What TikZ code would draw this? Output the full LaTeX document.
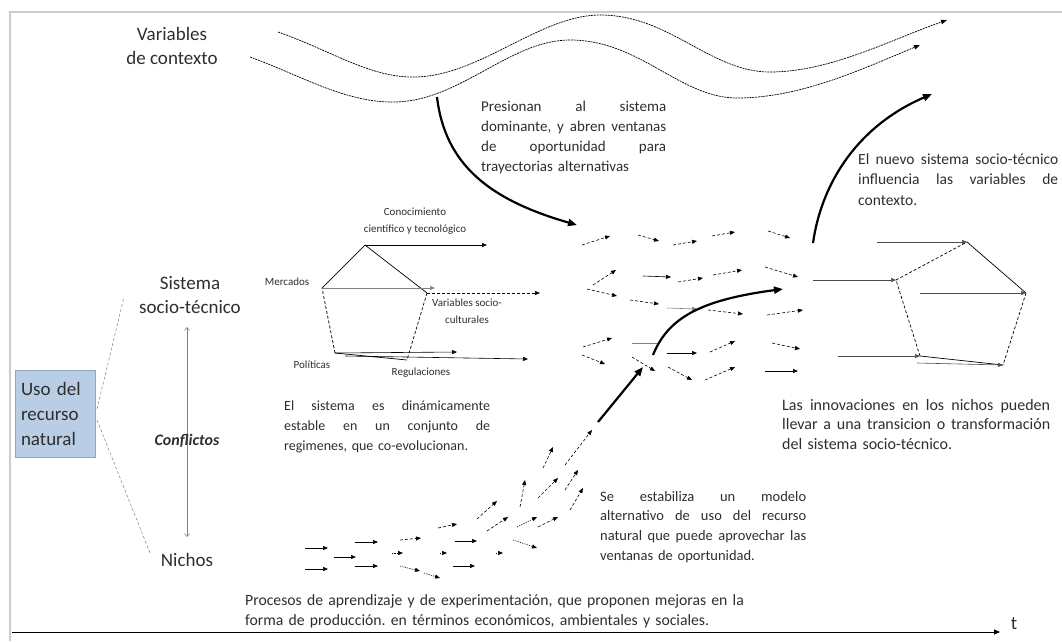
\documentclass[tikz,border=0pt]{standalone}
\usepackage{fontspec}
\setmainfont{Carlito}
\usetikzlibrary{arrows.meta}
\definecolor{boxfill}{HTML}{B9CDE5}
\definecolor{boxline}{HTML}{8EA9C8}
\frenchspacing
\newcommand{\jlin}[2]{\makebox[#1][s]{\spaceskip=0pt\xspaceskip=0pt\relax #2}}
\begin{document}
\begin{tikzpicture}[x=1pt,y=-1pt,
  txt/.style={inner sep=0pt,text=black!82},
  para/.style={txt,anchor=base west,align=left,text width=300pt},
  big/.style={txt,align=center,font=\fontsize{19}{23.5}\selectfont},
  small/.style={txt,align=center,font=\fontsize{11}{17}\selectfont},
  fa/.style={line width=0.6pt,-{Triangle[length=5pt,width=4pt]}},
  fd/.style={fa,densely dashed},
  fdot/.style={fa,dash pattern=on 1.2pt off 1.2pt},
  thickarr/.style={line width=2.2pt,-{Triangle[length=9pt,width=7pt]}},
  wave/.style={line width=0.7pt,dash pattern=on 2pt off 0.8pt,-{Triangle[length=6pt,width=4.5pt]}},
  pent/.style={line width=0.7pt},
  pentd/.style={line width=0.7pt,densely dashed}]
\useasboundingbox (0,0) rectangle (1062,641);
% frame
\draw[gray!40,line width=1.2pt] (10,641) -- (10,12) -- (1062,12);

% context waves
\draw[wave] (278,32) .. controls (330,50) and (370,78) .. (415,77)
  .. controls (480,76) and (540,15) .. (600,15)
  .. controls (670,15) and (710,72) .. (770,72)
  .. controls (830,72) and (890,40) .. (947,20);
\draw[wave] (250,57) .. controls (300,75) and (345,103) .. (395,102)
  .. controls (460,101) and (510,40) .. (570,40)
  .. controls (640,40) and (680,98) .. (737,98)
  .. controls (800,98) and (860,70) .. (920,45);

% labels left
\node[big] (ctx) at (172,46) {Variables\\de contexto};
\node[big] (sis) at (190,295) {Sistema\\socio-técnico};
\node[draw=boxline,fill=boxfill,line width=0.8pt,minimum width=80pt,minimum height=87pt,
      inner xsep=6pt,inner ysep=0pt,text width=68pt,align=left,
      font=\fontsize{19}{25}\selectfont,text=black!82] (uso) at (55,413.5) {Uso del\\recurso\\natural};
\node[big] (nic) at (187,560) {Nichos};
\coordinate (up) at (187,327);
\coordinate (dn) at (187,537);
\draw[gray,line width=0.6pt,{Straight Barb[length=3pt,width=5pt]}-{Straight Barb[length=3pt,width=5pt]}] (up) -- (dn);
\node[txt,font=\fontsize{16}{19}\selectfont\bfseries\itshape] (con) at (187,441) {Conflictos};
\coordinate (u1) at (97,409);
\coordinate (u2) at (97,420);
\coordinate (s1) at (124,297);
\coordinate (n1) at (150,553);
\draw[gray,densely dashed,line width=0.5pt] (u1) -- (s1);
\draw[gray,densely dashed,line width=0.5pt] (u2) -- (n1);

% left pentagon
\coordinate (PT) at (365,245);
\coordinate (PR) at (427,293);
\coordinate (PBR) at (407,360);
\coordinate (PBL) at (335,353);
\coordinate (PL) at (322,288);
\draw[pent] (PL) -- (PT) -- (PR);
\draw[pentd] (PR) -- (PBR);
\draw[pent] (PBR) -- (PBL);
\draw[pentd] (PBL) -- (PL);
\draw[fa] (PT) -- (487,245);
\draw[fa,gray] (PL) -- (435,288);
\draw[fd] (PR) -- (540,293);
\draw[fa] (PBL) -- (457,352);
\draw[fa] (345,356) -- (528,359);
\node[small] (lcon) at (415,221) {Conocimiento\\científico y tecnológico};
\node[small] (lmer) at (287,282) {Mercados};
\node[small] (lvar) at (467,311) {Variables socio-\\culturales};
\node[small] (lpol) at (312,365) {Políticas};
\node[small] (lreg) at (421,373) {Regulaciones};

% right pentagon
\coordinate (QT) at (967,242);
\coordinate (QR) at (1026,293);
\coordinate (QBR) at (1003,365);
\coordinate (QBL) at (920,356);
\coordinate (QL) at (896,280);
\draw[pentd] (QL) -- (QT);
\draw[pent] (QT) -- (QR);
\draw[pentd] (QR) -- (QBR);
\draw[pent] (QBR) -- (QBL);
\draw[pentd] (QBL) -- (QL);
\draw[fa,black!70] (877,242) -- (QT);
\draw[fa,black!70] (813,280) -- (QL);
\draw[fa,black!70] (920,293) -- (QR);
\draw[fa,black!70] (838,356) -- (QBL);
\draw[fa,black!70] (917,363) -- (QBR);

% field of arrows (regime)
\draw[fd] (582,245) -- (610,236);
\draw[fd] (638,235) -- (659,241);
\draw[fd] (673,245) -- (697,241);
\draw[fd] (712,236) -- (735,232);
\draw[fd] (768,231) -- (790,238);
\draw[fd] (593,285) -- (616,270);
\draw[fa] (643,276) -- (671,277);
\draw[fd] (678,282) -- (703,278);
\draw[fd] (713,275) -- (742,270);
\draw[fd] (765,267) -- (798,277);
\draw[fd] (587,289) -- (617,296);
\draw[fd] (630,300) -- (659,304);
\draw[fa,gray] (667,308) -- (697,309);
\draw[fd] (708,310) -- (743,314);
\draw[fd] (767,315) -- (803,310);
\draw[fd] (583,347) -- (612,338);
\draw[line width=0.6pt,gray] (632,343) -- (657,343);
\draw[fa] (667,353) -- (697,353);
\draw[fd] (710,352) -- (735,341);
\draw[fd] (772,343) -- (800,349);
\draw[fd] (582,355) -- (605,364);
\draw[fd] (632,357) -- (655,371);
\draw[fd] (668,367) -- (692,380);
\draw[fd] (705,380) -- (735,367);
\draw[fa] (765,371) -- (798,371);

% field of arrows (niches)
\draw[fa] (305,548) -- (328,548);
\draw[fa] (334,557) -- (356,557);
\draw[fa] (305,569) -- (328,569);
\draw[fa] (355,542) -- (378,542);
\draw[fa] (355,566) -- (378,566);
\draw[fd] (400,540) -- (421,538);
\draw[fdot] (392,553) -- (403,553);
\draw[fdot] (400,566) -- (420,571);
\draw[fdot] (424,573) -- (440,578);
\draw[fd] (438,528) -- (457,524);
\draw[fa] (455,541) -- (477,541);
\draw[fdot] (440,553) -- (447,553);
\draw[fa] (453,566) -- (475,566);
\draw[fd] (477,519) -- (497,501);
\draw[fd] (487,531) -- (508,517);
\draw[fdot] (496,553) -- (503,553);
\draw[fdot] (517,527) -- (537,517);
\draw[fdot] (513,540) -- (537,548);
\draw[fd] (538,527) -- (558,517);
\draw[fd] (520,507) -- (525,480);
\draw[fd] (538,498) -- (558,478);
\draw[fd] (543,468) -- (553,447);
\draw[fd] (565,490) -- (578,470);
\draw[fd] (565,465) -- (592,430);
\draw[fd] (570,510) -- (583,488);

% thick arrows
\coordinate (a1s) at (437,97);
\coordinate (a1e) at (577,225);
\draw[thickarr] (a1s) .. controls (445,165) and (490,200) .. (a1e);
\coordinate (a2s) at (598,422);
\coordinate (a2e) at (643,367);
\draw[thickarr] (a2s) -- (a2e);
\coordinate (a3s) at (653,355);
\coordinate (a3e) at (783,289);
\draw[thickarr] (a3s) .. controls (668,318) and (700,300) .. (a3e);
\coordinate (a4s) at (813,243);
\coordinate (a4e) at (932,94);
\draw[thickarr] (a4s) .. controls (822,180) and (860,125) .. (a4e);

% paragraphs
\node[para,font=\fontsize{15}{20}\selectfont] (p1) at (481,111)
  {\jlin{185pt}{Presionan al sistema}\\\jlin{185pt}{dominante, y abren ventanas}\\\jlin{185pt}{de oportunidad para}\\trayectorias alternativas};
\node[para,font=\fontsize{15.5}{20.5}\selectfont] (p2) at (858,164)
  {\jlin{200pt}{El nuevo sistema socio-técnico}\\\jlin{200pt}{influencia las variables de}\\contexto.};
\node[para,font=\fontsize{14}{20}\selectfont] (p3) at (284,410)
  {\jlin{206pt}{El sistema es dinámicamente}\\\jlin{206pt}{estable en un conjunto de}\\regimenes, que co-evolucionan.};
\node[para,font=\fontsize{16}{19.5}\selectfont] (p4) at (782,410)
  {\jlin{268pt}{Las innovaciones en los nichos pueden}\\\jlin{268pt}{llevar a una transicion o transformación}\\del sistema socio-técnico.};
\node[para,font=\fontsize{14.5}{19.7}\selectfont] (p5) at (600,501)
  {\jlin{206pt}{Se estabiliza un modelo}\\\jlin{206pt}{alternativo de uso del recurso}\\\jlin{206pt}{natural que puede aprovechar las}\\ventanas de oportunidad.};
\node[para,text width=520pt,font=\fontsize{15.7}{20}\selectfont\frenchspacing] (p6) at (245,605)
  {Procesos de aprendizaje y de experimentación, que proponen mejoras en la\\forma de producción. en términos económicos, ambientales y sociales.};

% time axis
\coordinate (t0) at (12,632);
\coordinate (t1) at (1000,632);
\draw[line width=1pt,-{Triangle[length=6pt,width=5pt]}] (t0) -- (t1);
\node[txt,font=\fontsize{19}{23}\selectfont] (tl) at (1014,624) {t};
\end{tikzpicture}
\end{document}
